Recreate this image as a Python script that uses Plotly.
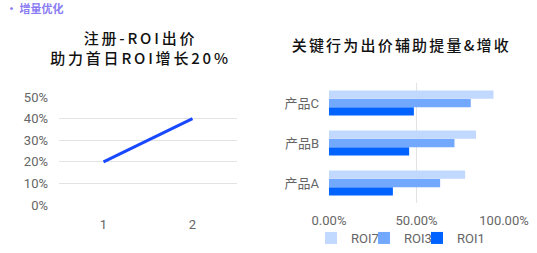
import plotly.graph_objects as go

# Left chart data
line_x = ["1", "2"]
line_y = [0.20, 0.40]
left_ticks = [0, 0.1, 0.2, 0.3, 0.4, 0.5]

# Right chart data
categories = ["产品A", "产品B", "产品C"]
roi7 = [0.778, 0.84, 0.94]
roi3 = [0.635, 0.717, 0.81]
roi1 = [0.365, 0.458, 0.485]

W, H = 537, 253
FONT = "Noto Sans CJK SC"
TICKFONT = "Roboto, Noto Sans CJK SC"
TITLEFONT = "Noto Sans CJK SC"

def px_x(p):
    return p / W

def px_y(p):
    return 1 - p / H

fig = go.Figure()

fig.add_trace(go.Scatter(
    x=line_x, y=line_y, mode="lines",
    line=dict(color="#1848ff", width=3),
    showlegend=False, xaxis="x", yaxis="y",
))

series = [("ROI1", roi1, "#0062ff", "legend3", 459),
          ("ROI3", roi3, "#73a8ff", "legend2", 406),
          ("ROI7", roi7, "#c2d9ff", "legend", 353)]

for name, vals, col, lg, _ in series:
    fig.add_trace(go.Bar(
        y=categories, x=vals, orientation="h", name=name,
        marker=dict(color=col, line=dict(width=0)),
        xaxis="x2", yaxis="y2", legend=lg,
    ))

tick_font = dict(family=TICKFONT, size=13, color="#666666")
legend_font = dict(family=TICKFONT, size=13, color="#666666")

legends = {}
for name, vals, col, lg, text_x in series:
    legends[lg] = dict(orientation="h", x=px_x(text_x - 42), xanchor="left",
                       y=0, yanchor="bottom", font=legend_font,
                       itemwidth=30, bgcolor="rgba(0,0,0,0)")

fig.update_layout(
    width=W, height=H,
    margin=dict(l=0, r=0, t=0, b=0),
    paper_bgcolor="white", plot_bgcolor="white",
    barmode="group", bargap=0.375, bargroupgap=0,
    font=dict(family=FONT),
    xaxis=dict(domain=[px_x(59), px_x(237)], type="category",
               range=[-0.5, 1.5], automargin=False,
               showgrid=False, zeroline=False, showline=False,
               tickfont=tick_font, ticks="", ticklabelstandoff=10,
               anchor="y"),
    yaxis=dict(domain=[px_y(205), px_y(97)], range=[0, 0.5],
               tickvals=left_ticks, tickformat=".0%", automargin=False,
               showgrid=True, gridcolor="#e3e3e3", gridwidth=1,
               zeroline=False, showline=False, tickfont=tick_font,
               ticks="", ticklabelstandoff=10, anchor="x"),
    xaxis2=dict(domain=[px_x(329), px_x(504)], range=[0, 1],
                tickvals=[0, 0.5, 1], tickformat=".2%", automargin=False,
                showgrid=True, gridcolor="#e3e3e3", gridwidth=1,
                zeroline=False, showline=False, tickfont=tick_font,
                ticks="", ticklabelstandoff=8, anchor="y2"),
    yaxis2=dict(domain=[px_y(203), px_y(83)], automargin=False,
                showgrid=False, zeroline=False, showline=False,
                tickfont=tick_font, ticks="", ticklabelstandoff=9,
                anchor="x2"),
    annotations=[
        dict(text="· 增量优化", x=px_x(4), y=px_y(8), xref="paper", yref="paper",
             xanchor="left", yanchor="middle", showarrow=False,
             font=dict(family=FONT, size=11, color="#8a7cf2", weight="bold")),
        dict(text="注册-ROI出价<br>助力首日ROI增长20%", x=px_x(140), y=px_y(47.5),
             xref="paper", yref="paper", xanchor="center", yanchor="middle",
             showarrow=False, align="center",
             font=dict(family=TITLEFONT, size=15, color="#111111", weight=500)),
        dict(text="关键行为出价辅助提量&增收", x=px_x(401), y=px_y(44),
             xref="paper", yref="paper", xanchor="center", yanchor="middle",
             showarrow=False,
             font=dict(family=TITLEFONT, size=15, color="#111111", weight=500)),
    ],
    **legends,
)

post = """
var gd = document.getElementById('{plot_id}');
var t = gd.querySelectorAll('.annotation-text');
if (t.length > 2) {
  t[1].style.letterSpacing = '2.8px';
  t[2].style.letterSpacing = '2.2px';
}
"""

fig.write_html("out.html", post_script=post)
